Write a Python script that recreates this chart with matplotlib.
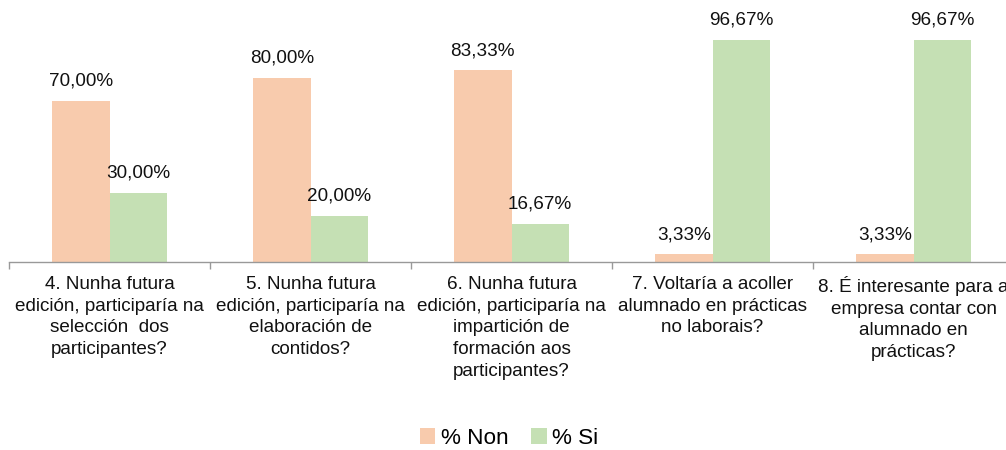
import matplotlib

matplotlib.use("Agg")

import matplotlib.pyplot as plt
import numpy as np

plt.rcParams["font.family"] = ["Liberation Sans", "DejaVu Sans"]

categorias = [
    "4. Nunha futura\nedición, participaría na\nselección  dos\nparticipantes?",
    "5. Nunha futura\nedición, participaría na\nelaboración de\ncontidos?",
    "6. Nunha futura\nedición, participaría na\nimpartición de\nformación aos\nparticipantes?",
    "7. Voltaría a acoller\nalumnado en prácticas\nno laborais?",
    "8. É interesante para a\nempresa contar con\nalumnado en\nprácticas?",
]
pct_non = [0.70, 0.80, 0.8333, 0.0333, 0.0333]
pct_si = [0.30, 0.20, 0.1667, 0.9667, 0.9667]
series = ["% Non", "% Si"]
cores = ["#F8CBAD", "#C5E0B4"]

fig = plt.figure(figsize=(10.06, 4.5), dpi=100)
ax = fig.add_axes([9 / 1006, 188 / 450, 1005 / 1006, 262 / 450])

x = np.arange(len(categorias))
ancho = 0.286

for i, (valores, nome, cor) in enumerate(zip([pct_non, pct_si], series, cores)):
    pos = x + (i - 0.5) * ancho
    barras = ax.bar(pos, valores, width=ancho, color=cor, label=nome)
    for b, v in zip(barras, valores):
        texto = f"{v * 100:.2f}%".replace(".", ",")
        ax.annotate(
            texto,
            (b.get_x() + b.get_width() / 2, v),
            xytext=(0, 8),
            textcoords="offset points",
            ha="center",
            va="bottom",
            fontsize=13.6,
            color="#111111",
        )

ax.set_xlim(-0.5, len(categorias) - 0.5)
ax.set_ylim(0, 262 / 230)

ax.set_xticks(x)
ax.set_xticklabels(categorias, fontsize=13.6, color="#111111", linespacing=1.36)
ax.tick_params(axis="x", which="major", length=0, pad=10)
ax.set_xticks(np.arange(len(categorias) + 1) - 0.5, minor=True)
ax.tick_params(axis="x", which="minor", length=5, width=1, color="#999999")
ax.set_yticks([])

for lado in ["top", "right", "left"]:
    ax.spines[lado].set_visible(False)
ax.spines["bottom"].set_color("#999999")
ax.spines["bottom"].set_linewidth(1)

fig.legend(
    loc="center",
    bbox_to_anchor=(509 / 1006, 1 - 438 / 450),
    ncol=2,
    frameon=False,
    fontsize=16.2,
    handlelength=0.7,
    handleheight=0.7,
    handletextpad=0.25,
    columnspacing=1.0,
    borderpad=0.2,
)

fig.savefig("out.png", dpi=100)
plt.close(fig)
